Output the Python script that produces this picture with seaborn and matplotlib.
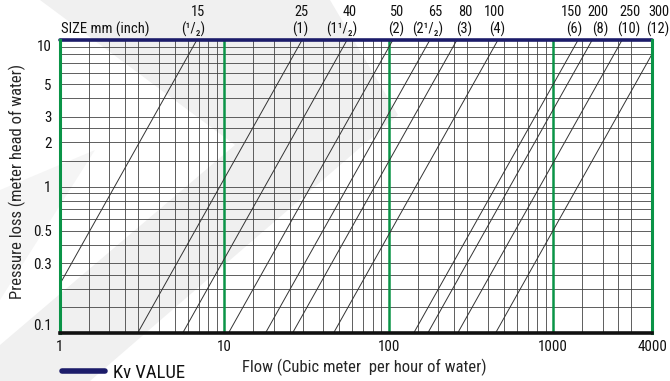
import matplotlib
matplotlib.use("Agg")
import numpy as np
import pandas as pd
import seaborn as sns
import matplotlib.pyplot as plt
from matplotlib import font_manager
from matplotlib.patches import Polygon
from matplotlib.lines import Line2D
from matplotlib.transforms import blended_transform_factory, offset_copy

# ---- data -------------------------------------------------------------
sizes_mm = ["15", "25", "40", "50", "65", "80", "100", "150", "200", "250", "300"]
sizes_inch = ["(¹/₂)", "(1)", "(1¹/₂)", "(2)", "(2¹/₂)", "(3)", "(4)",
              "(6)", "(8)", "(10)", "(12)"]
# flow (m3/h) giving 10 m head loss for each valve size
kv_values = [6.8, 29.7, 55.8, 106, 178, 260, 462, 1420, 1730, 2630, 4470]

flow_ticks = [1, 10, 100, 1000, 4000]
flow_tick_labels = ["1", "10", "100", "1000", "4000"]
head_ticks = [0.1, 0.3, 0.5, 1, 2, 3, 5, 10]
head_tick_labels = ["0.1", "0.3", "0.5", "1", "2", "3", "5", "10"]
grid_steps = [1.5, 2, 2.5, 3, 4, 5, 6, 7, 8, 9]

KV_HEAD = 10.0  # head (m) at which flow equals Kv

# each size is a straight line of slope 2 on log-log axes
rows = []
for size, kv in zip(sizes_mm, kv_values):
    for head in (0.1, KV_HEAD):
        rows.append({"size": size, "flow": kv * np.sqrt(head / KV_HEAD), "head": head})
df = pd.DataFrame(rows)

# ---- style ------------------------------------------------------------
sns.set_theme(style="white")
installed = {f.name for f in font_manager.fontManager.ttflist}
narrow = next((f for f in ("Liberation Sans Narrow", "Roboto Condensed",
                           "DejaVu Sans Condensed", "Liberation Sans")
               if f in installed), "DejaVu Sans")
plt.rcParams["font.family"] = [narrow, "DejaVu Sans"]
plt.rcParams["text.color"] = "#111111"

W, H = 670, 381
fig = plt.figure(figsize=(W / 100, H / 100), dpi=100)
fig.patch.set_facecolor("white")

# light chevron watermark behind the chart
def px(pts):
    return [(x / W, 1 - y / H) for x, y in pts]

fig.add_artist(Polygon(px([(40, 0), (330, 0), (398, 115), (90, 381), (0, 381),
                           (0, 345), (235, 145)]),
                       closed=True, transform=fig.transFigure,
                       facecolor="#f0f0f0", edgecolor="none", zorder=-5))
fig.add_artist(Polygon(px([(0, 190), (95, 150), (0, 300)]),
                       closed=True, transform=fig.transFigure,
                       facecolor="#f5f5f5", edgecolor="none", zorder=-5))

ax = fig.add_axes([60 / W, 48 / H, 592 / W, 293 / H])
ax.patch.set_alpha(0)
ax.set_xscale("log")
ax.set_yscale("log")
ax.set_xlim(1, 4000)
ax.set_ylim(0.1, 10)

GREEN = "#0a9447"
NAVY = "#1c1c6a"
GRID = "#444444"

# grid
for dec in (1, 10, 100, 1000):
    for s in grid_steps:
        v = s * dec
        if v < 4000:
            ax.axvline(v, color=GRID, lw=0.6, zorder=1)
for dec in (0.1, 1):
    for s in [1] + grid_steps:
        v = s * dec
        if 0.1 < v < 10:
            ax.axhline(v, color=GRID, lw=0.6, zorder=1)
for v in (10, 100, 1000):
    ax.axvline(v, color=GREEN, lw=1.8, zorder=2)

# valve size lines
sns.lineplot(data=df, x="flow", y="head", units="size", estimator=None,
             color="#333333", lw=0.7, ax=ax, legend=False, sort=False, zorder=3)

# Kv reference line
ax.axhline(KV_HEAD, color=NAVY, lw=2.6, zorder=6, clip_on=False)

ax.spines["top"].set_visible(False)
ax.spines["bottom"].set_color("#111111")
ax.spines["bottom"].set_linewidth(2.6)
ax.spines["left"].set_color(GREEN)
ax.spines["left"].set_linewidth(2.2)
ax.spines["right"].set_color(GREEN)
ax.spines["right"].set_linewidth(2.2)
for sp in ax.spines.values():
    sp.set_zorder(7)

ax.set_xticks(flow_ticks, flow_tick_labels)
ax.set_yticks(head_ticks, head_tick_labels)
ax.minorticks_off()
ax.tick_params(axis="both", length=0, labelsize=10.8, colors="#111111")
ax.tick_params(axis="x", pad=5)
ax.tick_params(axis="y", pad=6)
ylabels = ax.get_yticklabels()
ylabels[-1].set_va("top")
ylabels[0].set_va("bottom")

ax.set_xlabel("Flow (Cubic meter  per hour of water)", fontsize=12)
ax.xaxis.set_label_coords((364 - 60) / 592, (333 - 367) / 293)
ax.xaxis.label.set_va("center")
ax.set_ylabel("Pressure loss (meter head of water)", fontsize=12)
ax.yaxis.set_label_coords((17 - 60) / 592, (333 - 181) / 293)
ax.yaxis.label.set_va("center")

# size labels above the chart, right-aligned near each line's Kv crossing
label_offsets_px = {"15": 8, "25": 6, "40": 10, "50": 11, "65": 13, "80": 15,
                    "100": 7, "150": 4, "200": 16, "250": 18, "300": 9}
base = blended_transform_factory(ax.transData, fig.transFigure)
for mm, inch, kv in zip(sizes_mm, sizes_inch, kv_values):
    tr = offset_copy(base, fig=fig, x=label_offsets_px[mm] * 0.72, y=0, units="points")
    ax.text(kv, 1 - 12 / H, mm, transform=tr, ha="right", va="center", fontsize=10.4)
    ax.text(kv, 1 - 29 / H, inch, transform=tr, ha="right", va="center", fontsize=10.4)

fig.text(61 / W, 1 - 29 / H, "SIZE mm (inch)", ha="left", va="center", fontsize=10.5)

handle = Line2D([], [], color=NAVY, lw=4)
fig.legend([handle], ["Kv VALUE"], loc="center left",
           bbox_to_anchor=(62 / W, 1 - 373 / H), bbox_transform=fig.transFigure,
           frameon=False, fontsize=13.5, handlelength=2.3, handletextpad=0.4,
           borderpad=0, borderaxespad=0)

fig.savefig("out.png", dpi=100)
